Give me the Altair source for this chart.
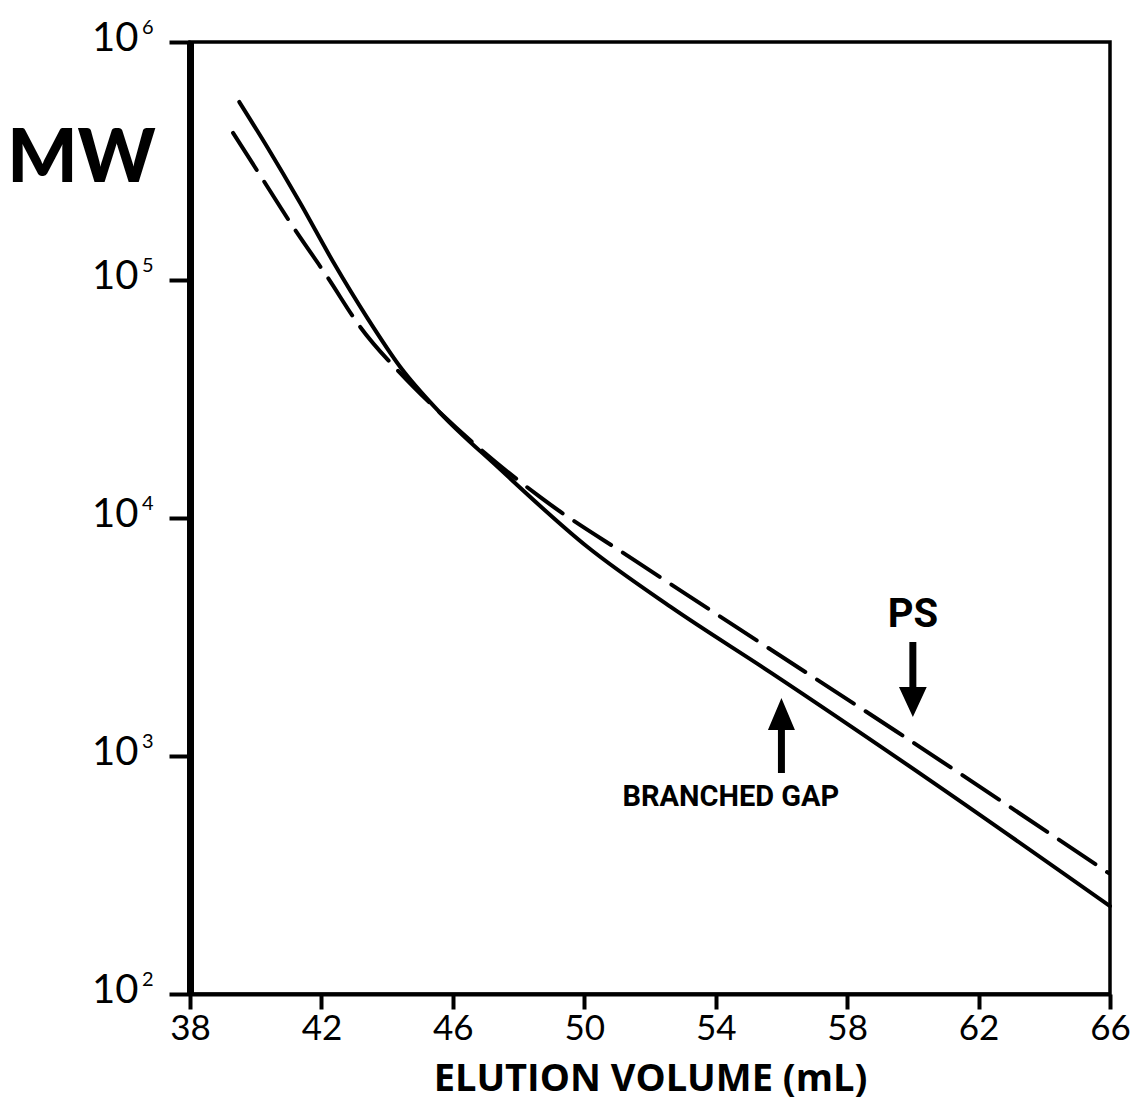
import altair as alt
import pandas as pd

# Branched polymer calibration (solid) - elution volume (mL) vs MW
branched_vol = [39.5, 40.35, 41.35, 42.36, 43.4, 44.4, 45.62, 47.36, 50.1, 52.63, 55.7, 60.5, 66.0]
branched_mw = [560000, 362000, 211000, 119000, 69200, 43100, 27600, 16400, 7550, 4230, 2230, 794, 234]

# Polystyrene calibration (dashed)
ps_vol = [39.31, 40.13, 41.14, 42.18, 43.18, 44.4, 45.62, 48.67, 51.51, 54.77, 59.49, 65.96]
ps_mw = [415000, 276000, 167000, 103000, 63500, 40600, 27600, 12200, 6670, 3380, 1270, 322]

x_ticks = [38, 42, 46, 50, 54, 58, 62, 66]
y_ticks = [100, 1000, 10000, 100000, 1000000]
y_exponents = ["2", "3", "4", "5", "6"]

# Annotations
arrow_vol = [56.0, 60.0]
arrow_mw = [1220, 2094]
arrow_dir = ["up", "down"]
label_text = ["BRANCHED GAP", "PS"]
label_vol = [54.46, 60.0]
label_mw = [673, 3910]
label_size = [29, 40]

FONT = "Lato, Noto Sans, sans-serif"
TITLE_FONT = "Open Sans, Lato, sans-serif"
NARROW = "Roboto, Liberation Sans, sans-serif"

df_b = pd.DataFrame({"vol": branched_vol, "mw": branched_mw})
df_p = pd.DataFrame({"vol": ps_vol, "mw": ps_mw})
df_arrow = pd.DataFrame({"vol": arrow_vol, "mw": arrow_mw, "dir": arrow_dir})
df_lab = pd.DataFrame({"vol": label_vol, "mw": label_mw, "text": label_text, "size": label_size})
df_exp = pd.DataFrame({"mw": y_ticks, "e": y_exponents})

xscale = alt.Scale(domain=[38, 66], nice=False, zero=False)
yscale = alt.Scale(type="log", domain=[100, 1000000], nice=False)

xaxis = alt.Axis(
    values=x_ticks, title="ELUTION VOLUME (mL)", grid=False,
    tickSize=15, tickWidth=4, tickColor="black",
    domainWidth=4, domainColor="black",
    labelFontSize=35, labelFont=FONT, labelColor="black", labelPadding=2,
    labelFlush=False,
    titleFontSize=38, titleFont=TITLE_FONT, titleFontWeight="bold", titleColor="black",
    titlePadding=14,
)
yaxis = alt.Axis(
    values=y_ticks, labelExpr="'10'", title="MW", grid=False,
    tickSize=21, tickWidth=4, tickColor="black",
    domainWidth=7, domainColor="black",
    labelFontSize=40, labelFont=FONT, labelColor="black", labelPadding=31,
    labelBaseline="middle", labelOffset=-4, labelFlush=False,
    titleAngle=0, titleX=-109, titleY=117, titleAlign="center", titleBaseline="middle",
    titleFontSize=74, titleFont=FONT, titleFontWeight=900, titleColor="black",
)

solid = alt.Chart(df_b).mark_line(
    color="black", strokeWidth=4, interpolate="monotone", strokeCap="round"
).encode(
    x=alt.X("vol:Q", scale=xscale, axis=xaxis),
    y=alt.Y("mw:Q", scale=yscale, axis=yaxis),
)

dashed = alt.Chart(df_p).mark_line(
    color="black", strokeWidth=4, interpolate="monotone", strokeDash=[44, 14], strokeCap="round"
).encode(
    x=alt.X("vol:Q", scale=xscale),
    y=alt.Y("mw:Q", scale=yscale),
)

UP = "M0,-1L0.36,-0.147L0.093,-0.147L0.093,1L-0.093,1L-0.093,-0.147L-0.36,-0.147Z"
DOWN = "M0,1L0.37,0.2L0.093,0.2L0.093,-1L-0.093,-1L-0.093,0.2L-0.37,0.2Z"

arrows = alt.Chart(df_arrow).mark_point(
    filled=True, color="black", size=5625, strokeWidth=0, opacity=1
).encode(
    x=alt.X("vol:Q", scale=xscale),
    y=alt.Y("mw:Q", scale=yscale),
    shape=alt.Shape("dir:N", scale=alt.Scale(domain=["up", "down"], range=[UP, DOWN]), legend=None),
)

labels = alt.Chart(df_lab).mark_text(
    font=NARROW, fontWeight="bold", color="black", align="center", baseline="middle"
).encode(
    x=alt.X("vol:Q", scale=xscale),
    y=alt.Y("mw:Q", scale=yscale),
    text="text:N",
    size=alt.Size("size:Q", scale=None, legend=None),
)

exps = alt.Chart(df_exp).mark_text(
    font=FONT, fontSize=20, color="black", align="left", baseline="middle", dy=-14
).encode(
    x=alt.value(-48),
    y=alt.Y("mw:Q", scale=yscale),
    text="e:N",
)

chart = alt.layer(solid, dashed, arrows, labels, exps).properties(
    width=920, height=952,
    autosize=alt.AutoSizeParams(type="none"),
    padding={"left": 190, "top": 42, "right": 21, "bottom": 122},
    background="white",
).configure_view(
    stroke="black", strokeWidth=3.5
)

chart.save("out.html", embed_options={"renderer": "svg", "actions": False})
